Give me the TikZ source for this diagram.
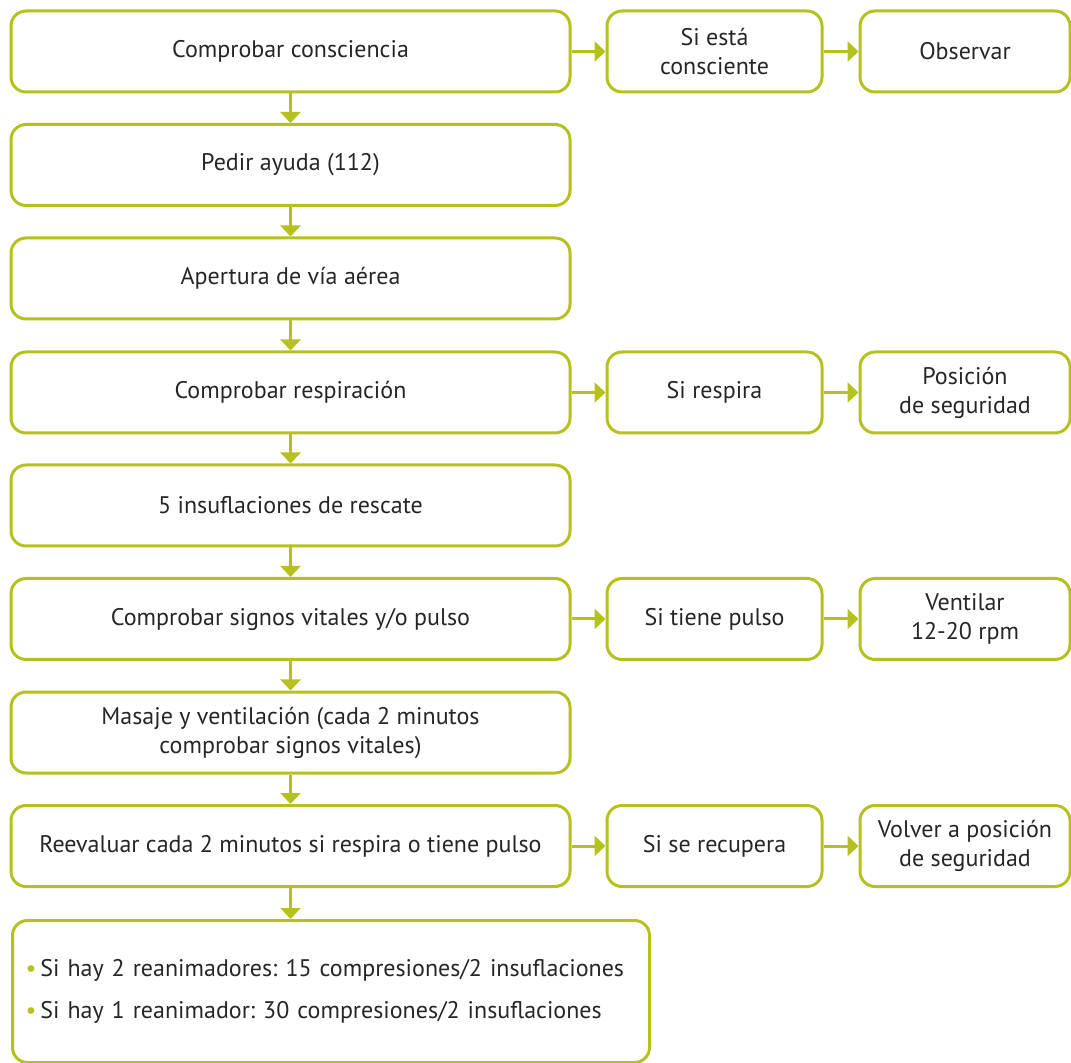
\documentclass[tikz,border=0pt]{standalone}
\usepackage{fontspec}
\setmainfont{PT Sans}
\usetikzlibrary{arrows.meta}
\definecolor{cprgreen}{RGB}{181,193,30}
\newcommand{\greendot}{{\color{cprgreen}\textbullet}\,}
\frenchspacing

\begin{document}
\begin{tikzpicture}[x=0.5pt,y=-0.5pt,
    font=\fontsize{12}{14.5}\selectfont,
    box/.style={draw=cprgreen,line width=1.5pt,rounded corners=7.5pt,
      align=center,inner sep=0pt,text=black!85,minimum height=40.5pt},
    wide/.style={box,minimum width=279.5pt},
    side/.style={box,minimum width=107.5pt},
    outer/.style={box,minimum width=105pt},
    link/.style={color=cprgreen,line width=1.5pt,-{Triangle[length=5.5pt,width=10pt]}}]
  \useasboundingbox (0,0) rectangle (1071,1063);

  % main column
  \node[wide] (consc) at (290.5,51.5) {Comprobar consciencia};
  \node[wide] (ayuda) at (290.5,165) {Pedir ayuda (112)};
  \node[wide] (via) at (290.5,278.5) {Apertura de vía aérea};
  \node[wide] (resp) at (290.5,392.5) {Comprobar respiración};
  \node[wide] (insuf) at (290.5,505.5) {5 insuflaciones de rescate};
  \node[wide] (pulso) at (290.5,619) {Comprobar signos vitales y/o pulso};
  \node[wide] (masaje) at (290.5,732.5) {Masaje y ventilación (cada 2 minutos\\comprobar signos vitales)};
  \node[wide] (reeval) at (290.5,846) {Reevaluar cada 2 minutos si respira o tiene pulso};
  \node[box,anchor=north west,align=left,inner xsep=6.5pt,text width=305.5pt,
    minimum height=71pt] (ritmo) at (11,919)
    {\greendot Si hay 2 reanimadores: 15 compresiones/2 insuflaciones\\[6.5pt]
     \greendot Si hay 1 reanimador: 30 compresiones/2 insuflaciones};
  \coordinate (ritmotop) at (reeval.south |- ritmo.north);

  % side branches
  \node[side] (siconsc) at (714.5,51.5) {Si está\\consciente};
  \node[outer] (observ) at (965,51.5) {Observar};
  \node[side] (siresp) at (714.5,392.5) {Si respira};
  \node[outer] (posic) at (965,392.5) {Posición\\de seguridad};
  \node[side] (sipulso) at (714.5,619) {Si tiene pulso};
  \node[outer] (ventil) at (965,619) {Ventilar\\12-20 rpm};
  \node[side] (sirecup) at (714.5,846) {Si se recupera};
  \node[outer] (volver) at (965,846) {Volver a posición\\de seguridad};

  \path[link]
    (consc) edge (ayuda)
    (ayuda) edge (via)
    (via) edge (resp)
    (resp) edge (insuf)
    (insuf) edge (pulso)
    (pulso) edge (masaje)
    (masaje) edge (reeval)
    (reeval) edge (ritmotop)
    (consc) edge (siconsc)
    (siconsc) edge (observ)
    (resp) edge (siresp)
    (siresp) edge (posic)
    (pulso) edge (sipulso)
    (sipulso) edge (ventil)
    (reeval) edge (sirecup)
    (sirecup) edge (volver);
\end{tikzpicture}
\end{document}
